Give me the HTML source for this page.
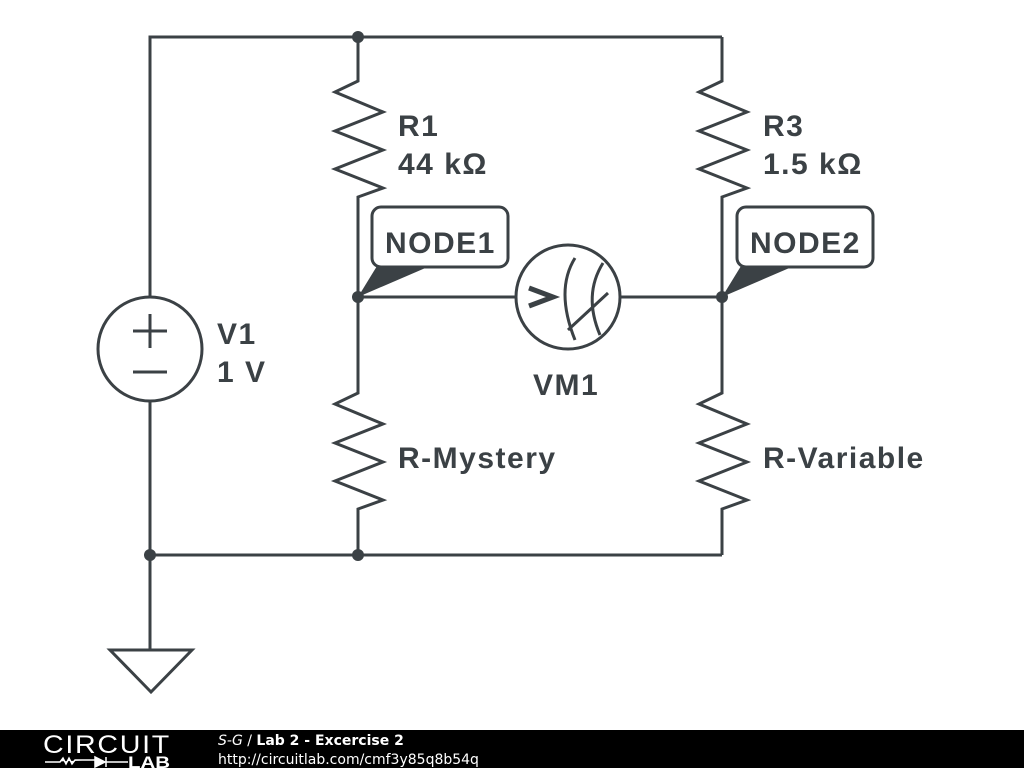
<!DOCTYPE html>
<html><head><meta charset="utf-8"><style>
body{margin:0;width:1024px;height:768px;background:#fff;overflow:hidden;font-family:"Liberation Sans",sans-serif}
</style></head><body>
<svg width="1024" height="768" viewBox="0 0 1024 768" xmlns="http://www.w3.org/2000/svg">
<g stroke="#3b4145" stroke-width="3" fill="none" stroke-linejoin="miter">
<path d="M150 297 V37 H722 M150 401 V650 M150 555 H722"/>
<path d="M358 37 V81 L335 92 L383 112 L335 131 L383 150 L335 169 L383 188 L358 197 V393 L335 404 L383 424 L335 443 L383 462 L335 481 L383 500 L358 509 V555"/>
<path d="M722 37 V81 L699 92 L747 112 L699 131 L747 150 L699 169 L747 188 L722 197 V393 L699 404 L747 424 L699 443 L747 462 L699 481 L747 500 L722 509 V555"/>
<circle cx="150" cy="349" r="52"/>
<path d="M133 331 H167 M150 314 V348 M133 372 H167"/>
<path d="M358 297 H516 M620 297 H722"/>
<circle cx="568" cy="297" r="52"/>
<path d="M575 258 Q555 290 575 340 M603 263 Q583 295 600 335 M568 330 L608 293"/>
<path d="M110 650 H192 L151 692 Z"/>
<rect x="372" y="207" width="136" height="60" rx="9"/>
<rect x="737" y="207" width="136" height="60" rx="9"/>
</g>
<path d="M529 288 L553 297 L529 306" stroke="#3b4145" stroke-width="5" fill="none"/>
<g fill="#3b4145">
<circle cx="358" cy="37" r="6"/><circle cx="358" cy="297" r="6"/><circle cx="722" cy="297" r="6"/>
<circle cx="150" cy="555" r="6"/><circle cx="358" cy="555" r="6"/>
<path d="M358 297 L377 266 L430 266 Z"/>
<path d="M722 297 L741 266 L794 266 Z"/>
</g>
<g fill="#3b4145" font-weight="bold" font-size="30" letter-spacing="1.5">
<text x="398" y="136">R1</text><text x="398" y="174">44 kΩ</text>
<text x="763" y="136">R3</text><text x="763" y="174">1.5 kΩ</text>
<text x="217" y="344">V1</text><text x="217" y="382">1 V</text>
<text x="533" y="395">VM1</text>
<text x="398" y="468">R-Mystery</text><text x="763" y="468">R-Variable</text>
<text x="385" y="253">NODE1</text><text x="750" y="253">NODE2</text>
</g>
<rect x="0" y="730" width="1024" height="38" fill="#000"/>
<text x="43" y="753" fill="#fff" font-size="25" letter-spacing="1.5" textLength="128" lengthAdjust="spacingAndGlyphs">CIRCUIT</text>
<path d="M45 762 H60 l3 -4 l3 6 l3 -6 l3 6 l3 -4 H95 M95 757 v10 l10 -5 z M106 757 v10 M106 762 H128" stroke="#fff" stroke-width="1.5" fill="#fff"/>
<text x="128" y="768" fill="#fff" font-size="17" font-weight="bold" textLength="42" lengthAdjust="spacingAndGlyphs">LAB</text>
<text x="218" y="745" fill="#fff" font-size="14" font-family="DejaVu Sans,sans-serif"><tspan font-style="italic">S-G</tspan> / <tspan font-weight="bold">Lab 2 - Excercise 2</tspan></text>
<text x="218" y="764" fill="#fff" font-size="14" font-family="DejaVu Sans,sans-serif">http://circuitlab.com/cmf3y85q8b54q</text>
</svg>
</body></html>
